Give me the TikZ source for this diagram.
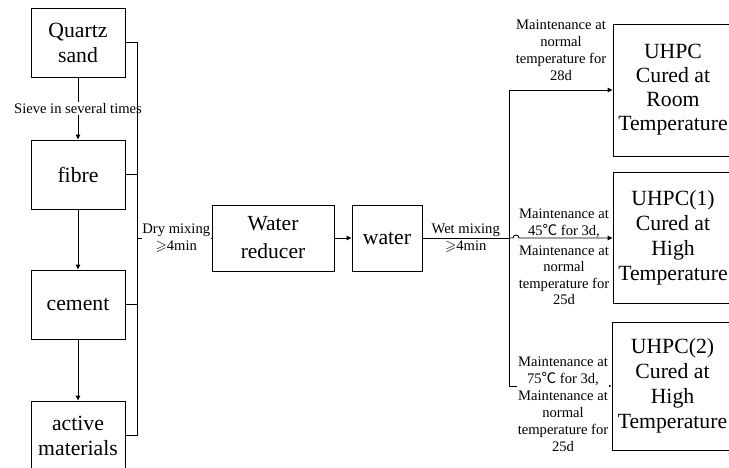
\documentclass[tikz,border=0pt]{standalone}
\usepackage{fontspec}
\setmainfont{Liberation Serif}
\newfontfamily\cjk{Noto Sans CJK SC}
\usepackage{amssymb}
\usetikzlibrary{arrows.meta}
\usetikzlibrary{calc}

\newcommand{\degC}{{\cjk ℃}}

\begin{document}
\begin{tikzpicture}[x=1pt, y=-1pt, line width=0.9pt,
        box_style/.style={draw=black, inner sep=0pt, align=center, font=\fontsize{21.7}{25}\selectfont},
        edge_style/.style={draw=black, -{Triangle[length=5pt,width=4.5pt]}},
        bus_style/.style={draw=black},
        label_style/.style={align=center, inner sep=1pt, font=\fontsize{14.6}{17}\selectfont}]

        \useasboundingbox (0,0) rectangle (729,468);
        \clip (0,0) rectangle (729,468);

        % raw materials
        \node [box_style, minimum width=94pt, minimum height=69pt] (sand) at (78,42.5) {Quartz\\sand};

        \node [box_style, minimum width=94pt, minimum height=69pt] (fibre) at (78,174.5) {fibre};

        \node [box_style, minimum width=94pt, minimum height=69pt] (cement) at (78,304.5) {cement};

        \node [box_style, minimum width=94pt, minimum height=69pt] (active) at (78,435.5) {active\\materials};

        \node [box_style, minimum width=122pt, minimum height=66pt, font=\fontsize{21.5}{28}\selectfont] (reducer) at (273,238) {Water\\reducer};

        \node [box_style, minimum width=70pt, minimum height=66pt] (water) at (387,238) {water};

        % curing results
        \node [box_style, minimum width=120pt, minimum height=132pt, font=\fontsize{21.7}{24}\selectfont] (room) at (673,90) {UHPC\\Cured at\\Room\\Temperature};

        \node [box_style, minimum width=120pt, minimum height=131pt, font=\fontsize{21.7}{25}\selectfont] (high45) at (673,238) {UHPC(1)\\Cured at\\High\\Temperature};

        \node [box_style, minimum width=121pt, minimum height=128pt, font=\fontsize{21.7}{25}\selectfont] (high75) at (672.5,386) {UHPC(2)\\Cured at\\High\\Temperature};

        \coordinate (lbus) at (137,0);
        \coordinate (rbus) at (509,0);

        \draw [edge_style] (sand) -- node[label_style, fill=white]{Sieve in several times} (fibre);

        \draw [edge_style] (fibre) -- (cement);

        \draw [edge_style] (cement) -- (active);

        \foreach \n in {sand,fibre,cement,active}
            \draw [bus_style] (\n.east) -- (\n.east -| lbus);

        \draw [bus_style] (sand.east -| lbus) -- (active.east -| lbus);

        \draw [bus_style] (reducer.west -| lbus) -- node[label_style, fill=white, inner sep=0.5pt, xshift=2pt]{Dry mixing\\$\geqslant$4min} (reducer.west);

        \draw [edge_style] (reducer) -- (water);

        \draw [bus_style] (water) -- node[label_style]{Wet mixing\\$\geqslant$4min} (water.east -| rbus);

        \draw [bus_style] (room.west -| rbus) -- (high75.west -| rbus);

        \draw [edge_style] (room.west -| rbus) -- (room.west);

        \draw [edge_style] (high45.west -| rbus) -- ++(4pt,0) arc[start angle=180, end angle=0, radius=3pt] -- (high45.west);

        \draw [edge_style] (high75.west -| rbus) -- (high75.west);

        % curing conditions
        \node [label_style] (cure28) at (561,50.5) {Maintenance at\\normal\\temperature for\\28d};

        \node [label_style] (heat45) at (564,223) {Maintenance at\\45\degC{} for 3d,};

        \node [label_style, font=\fontsize{14.6}{16.5}\selectfont] (cure25) at (564,275) {Maintenance at\\normal\\temperature for\\25d};

        \node [label_style, fill=white] (heat75) at (563,404.5) {Maintenance at\\75\degC{} for 3d,\\Maintenance at\\normal\\temperature for\\25d};

        \end{tikzpicture}
\end{document}
